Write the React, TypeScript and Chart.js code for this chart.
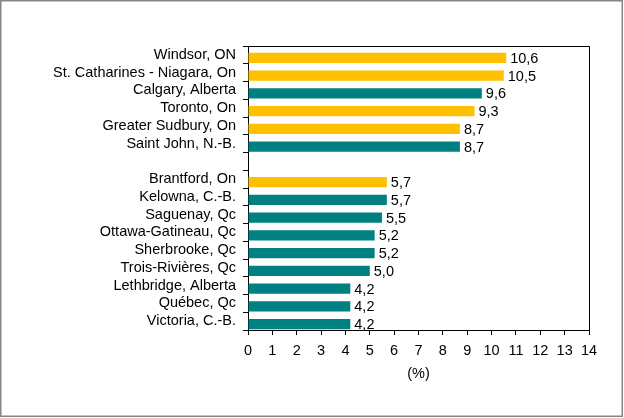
import React, { useEffect, useRef } from 'react';
import { Chart, registerables } from 'chart.js';

Chart.register(...registerables);

const cities: string[] = [
  'Windsor, ON',
  'St. Catharines - Niagara, On',
  'Calgary, Alberta',
  'Toronto, On',
  'Greater Sudbury, On',
  'Saint John, N.-B.',
  '',
  'Brantford, On',
  'Kelowna, C.-B.',
  'Saguenay, Qc',
  'Ottawa-Gatineau, Qc',
  'Sherbrooke, Qc',
  'Trois-Rivières, Qc',
  'Lethbridge, Alberta',
  'Québec, Qc',
  'Victoria, C.-B.',
];

const rates: (number | null)[] = [10.6, 10.5, 9.6, 9.3, 8.7, 8.7, null, 5.7, 5.7, 5.5, 5.2, 5.2, 5.0, 4.2, 4.2, 4.2];

const inOntario: boolean[] = [true, true, false, true, true, false, false, true, false, false, false, false, false, false, false, false];

const axisMin = 0;
const axisMax = 14;
const axisStep = 1;
const axisTitle = '(%)';

const ONTARIO_COLOR = '#FFC000';
const OTHER_COLOR = '#008080';
const FONT_FAMILY = "'Liberation Sans', Arial, Helvetica, sans-serif";
const BAR_SHIFT = 3;
const LABEL_GAP = 4;

const formatValue = (v: number) => v.toFixed(1).replace('.', ',');

export default function App() {
  const canvasRef = useRef<HTMLCanvasElement | null>(null);

  useEffect(() => {
    document.body.style.margin = '0';
    const canvas = canvasRef.current;
    if (!canvas) return;

    const decorPlugin = {
      id: 'decor',
      beforeDatasetsDraw(chart: any) {
        chart.ctx.save();
        chart.ctx.translate(0, BAR_SHIFT);
      },
      afterDatasetsDraw(chart: any) {
        const ctx = chart.ctx;
        ctx.restore();
        const meta = chart.getDatasetMeta(0);
        ctx.save();
        ctx.fillStyle = '#000';
        ctx.font = `14.5px ${FONT_FAMILY}`;
        ctx.textAlign = 'left';
        ctx.textBaseline = 'middle';
        meta.data.forEach((bar: any, i: number) => {
          const v = rates[i];
          if (v === null || v === undefined) return;
          ctx.fillText(formatValue(v), bar.x + LABEL_GAP, bar.y + BAR_SHIFT + 1);
        });
        ctx.restore();
      },
      afterDraw(chart: any) {
        const ctx = chart.ctx;
        const a = chart.chartArea;
        ctx.save();
        ctx.strokeStyle = '#000';
        ctx.lineWidth = 1;
        ctx.beginPath();
        ctx.moveTo(Math.round(a.left) + 0.5, Math.round(a.top) + 0.5);
        ctx.lineTo(Math.round(a.right) + 0.5, Math.round(a.top) + 0.5);
        ctx.lineTo(Math.round(a.right) + 0.5, Math.round(a.bottom) + 0.5);
        ctx.stroke();
        ctx.strokeStyle = '#868686';
        ctx.lineWidth = 1.5;
        ctx.strokeRect(0.75, 0.75, chart.width - 2.5, chart.height - 2.5);
        ctx.restore();
      },
    };

    const chart = new Chart(canvas, {
      type: 'bar',
      data: {
        labels: cities,
        datasets: [
          {
            data: rates as any,
            backgroundColor: inOntario.map((o) => (o ? ONTARIO_COLOR : OTHER_COLOR)),
            borderWidth: 0,
            barPercentage: 0.57,
            categoryPercentage: 1,
          },
        ],
      },
      options: {
        indexAxis: 'y',
        responsive: false,
        animation: false,
        devicePixelRatio: 1,
        layout: { padding: { top: 46, right: 35, bottom: 32, left: 0 } },
        plugins: {
          legend: { display: false },
          tooltip: { enabled: false },
        },
        scales: {
          x: {
            type: 'linear',
            position: 'bottom',
            min: axisMin,
            max: axisMax,
            ticks: {
              stepSize: axisStep,
              color: '#000',
              font: { family: FONT_FAMILY, size: 14.5 },
              padding: 7,
              maxRotation: 0,
              autoSkip: false,
            },
            grid: { drawOnChartArea: false, drawTicks: true, tickLength: 5, color: '#000' },
            border: { color: '#000', width: 1 },
            title: {
              display: true,
              text: axisTitle,
              color: '#000',
              font: { family: FONT_FAMILY, size: 14.5 },
              padding: { top: 0, bottom: 3 },
            },
            afterFit: (s: any) => {
              s.height = 56;
            },
          },
          y: {
            type: 'category',
            offset: true,
            ticks: {
              color: '#000',
              font: { family: FONT_FAMILY, size: 14.5 },
              padding: 7,
              autoSkip: false,
            },
            grid: { offset: true, drawOnChartArea: false, drawTicks: true, tickLength: 5, color: '#000' },
            border: { color: '#000', width: 1 },
            afterFit: (s: any) => {
              s.width = 248;
            },
          },
        },
      } as any,
      plugins: [decorPlugin],
    });

    return () => chart.destroy();
  }, []);

  return (
    <div style={{ width: 624, height: 418, background: '#fff' }}>
      <canvas ref={canvasRef} width={624} height={418} style={{ display: 'block' }} />
    </div>
  );
}
